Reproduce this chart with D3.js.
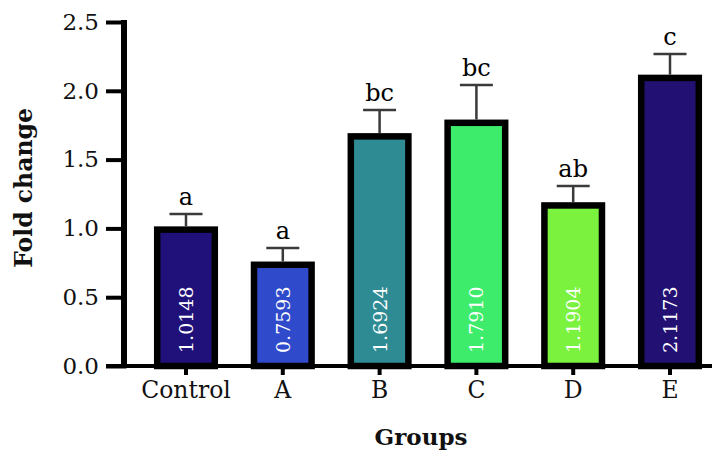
<!DOCTYPE html>
<html>
<head>
<meta charset="utf-8">
<script src="https://cdn.jsdelivr.net/npm/d3@7"></script>
<style>
  html, body { margin: 0; padding: 0; background: #ffffff; }
  svg { display: block; }
  text { font-family: "DejaVu Serif", "Liberation Serif", serif; }
</style>
</head>
<body>
<svg id="chart" width="719" height="451"></svg>
<script>
// Fold change per group (mean, upper error, significance letter)
const categories = ["Control", "A", "B", "C", "D", "E"];
const values = [1.0148, 0.7593, 1.6924, 1.7910, 1.1904, 2.1173];
const errors = [0.090, 0.099, 0.168, 0.251, 0.118, 0.150];
const letters = ["a", "a", "bc", "bc", "ab", "c"];
const colors = ["#20117a", "#2f4acb", "#2e8b94", "#3eec6c", "#7af23e", "#221072"];
const yTicks = [0.0, 0.5, 1.0, 1.5, 2.0, 2.5];

const svg = d3.select("#chart");

const x = d3.scaleBand()
  .domain(categories)
  .range([137.6, 718.4])
  .paddingInner(0.4)
  .paddingOuter(0.2);

const y = d3.scaleLinear()
  .domain([0, 2.5])
  .range([366, 22]);

const stroke = 6.5;
const outerW = x.bandwidth() + 6;

// Bars (outer edge of the black outline sits on the value)
const bars = svg.append("g");
bars.selectAll("rect")
  .data(categories)
  .join("rect")
  .attr("x", (d) => x(d) + x.bandwidth() / 2 - outerW / 2 + stroke / 2)
  .attr("width", outerW - stroke)
  .attr("y", (d, i) => y(values[i]) + stroke / 2)
  .attr("height", (d, i) => y(0) - y(values[i]) - stroke / 2)
  .attr("fill", (d, i) => colors[i])
  .attr("stroke", "#000")
  .attr("stroke-width", stroke);

// Upper error bars
const err = svg.append("g")
  .attr("stroke", "#3a3a3a")
  .attr("stroke-width", 2.5);
categories.forEach((c, i) => {
  const cx = x(c) + x.bandwidth() / 2;
  err.append("line")
    .attr("x1", cx).attr("x2", cx)
    .attr("y1", y(values[i])).attr("y2", y(values[i] + errors[i]));
  err.append("line")
    .attr("x1", cx - 16.5).attr("x2", cx + 16.5)
    .attr("y1", y(values[i] + errors[i])).attr("y2", y(values[i] + errors[i]));
});

// Significance letters
svg.append("g")
  .selectAll("text")
  .data(categories)
  .join("text")
  .attr("x", (d) => x(d) + x.bandwidth() / 2)
  .attr("y", (d, i) => y(values[i] + errors[i]) - 9)
  .attr("text-anchor", "middle")
  .attr("font-size", 24)
  .attr("fill", "#000")
  .text((d, i) => letters[i]);

// Value labels written up the bars
svg.append("g")
  .selectAll("text")
  .data(categories)
  .join("text")
  .attr("transform", (d) => `translate(${x(d) + x.bandwidth() / 2},353) rotate(-90)`)
  .attr("text-anchor", "start")
  .attr("dominant-baseline", "central")
  .attr("font-size", 19)
  .attr("fill", "#ffffff")
  .text((d, i) => values[i].toFixed(4));

// Y axis
const yAxis = svg.append("g")
  .attr("transform", "translate(124,0)")
  .call(d3.axisLeft(y).tickValues(yTicks).tickFormat(d3.format(".1f")).tickSize(18).tickSizeOuter(0).tickPadding(7));
yAxis.select(".domain").attr("stroke", "#000").attr("stroke-width", 6)
  .attr("d", `M0,${y(2.5) - 2}V${y(0)}`);
yAxis.selectAll(".tick line").attr("stroke", "#000").attr("stroke-width", 4)
  .attr("x1", 2.5).attr("x2", -18);
yAxis.selectAll(".tick text")
  .attr("font-family", "DejaVu Serif, serif")
  .attr("font-size", 23)
  .attr("fill", "#111");

// X axis
const xAxis = svg.append("g")
  .attr("transform", `translate(0,${y(0)})`)
  .call(d3.axisBottom(x).tickSize(9).tickSizeOuter(0).tickPadding(6));
xAxis.select(".domain").attr("stroke", "#000").attr("stroke-width", 4)
  .attr("d", "M106,0H712");
xAxis.selectAll(".tick line").attr("stroke", "#000").attr("stroke-width", 4);
xAxis.selectAll(".tick text")
  .attr("font-family", "DejaVu Serif, serif")
  .attr("font-size", 23.5)
  .attr("fill", "#111");

// Axis titles
svg.append("text")
  .attr("x", 421)
  .attr("y", 445)
  .attr("text-anchor", "middle")
  .attr("font-size", 23)
  .attr("font-weight", "bold")
  .attr("fill", "#111")
  .text("Groups");

svg.append("text")
  .attr("transform", "translate(32,188) rotate(-90)")
  .attr("text-anchor", "middle")
  .attr("font-size", 23.5)
  .attr("font-weight", "bold")
  .attr("fill", "#111")
  .text("Fold change");
</script>
</body>
</html>
